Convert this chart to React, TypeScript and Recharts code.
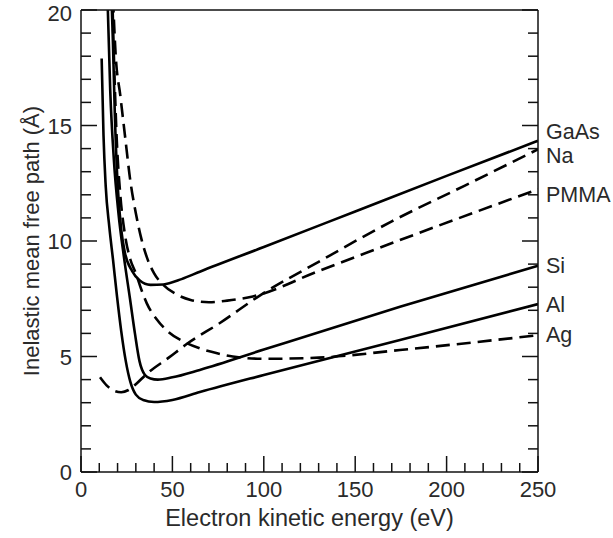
import { LineChart, Line, XAxis, YAxis, LabelList } from "recharts";

const FONT = "'Liberation Sans', Arial, Helvetica, sans-serif";

const energyTicks = [0, 10, 20, 30, 40, 50, 60, 70, 80, 90, 100, 110, 120, 130, 140, 150, 160, 170, 180, 190, 200, 210, 220, 230, 240, 250];
const imfpTicks = [0, 1, 2, 3, 4, 5, 6, 7, 8, 9, 10, 11, 12, 13, 14, 15, 16, 17, 18, 19, 20];

const gaasEnergy = [16.5, 17.5, 18.5, 20, 22, 24, 28, 32, 38, 45, 55, 65, 100, 150, 200, 250];
const gaasImfp = [21, 18.5, 15.5, 12.5, 10.5, 9.5, 8.7, 8.3, 8.1, 8.12, 8.35, 8.67, 9.74, 11.28, 12.82, 14.34];

const naEnergy = [10.4, 14, 18, 22, 26, 30, 36, 48, 58, 76, 98, 130, 170, 210, 250];
const naImfp = [4.1, 3.75, 3.52, 3.45, 3.55, 3.8, 4.25, 4.95, 5.55, 6.45, 7.65, 9.1, 10.85, 12.4, 13.97];

const pmmaEnergy = [17.5, 19, 21.5, 24, 27, 30, 33, 36, 40, 45, 52, 60, 70, 80, 94, 130, 174.5, 250];
const pmmaImfp = [20.5, 18, 16.3, 14.6, 12.6, 11.2, 10.1, 9.3, 8.6, 8.1, 7.7, 7.45, 7.35, 7.42, 7.6, 8.7, 10.04, 12.24];

const siEnergy = [14.5, 16, 18, 20.5, 23.5, 26.8, 29.5, 32, 35, 38, 42, 50, 65, 100, 174.5, 250];
const siImfp = [20.5, 16.5, 13.5, 11.2, 9.3, 7.5, 6.0, 4.8, 4.2, 4.05, 4.0, 4.1, 4.42, 5.3, 7.15, 8.93];

const alEnergy = [11.3, 12.3, 13.5, 15.5, 17.5, 19.7, 22, 24.5, 27, 30, 34, 40, 50, 65, 100, 174.5, 250];
const alImfp = [17.9, 14.6, 12.4, 10.6, 9.2, 7.6, 6.1, 4.8, 3.9, 3.35, 3.12, 3.03, 3.12, 3.46, 4.2, 5.71, 7.27];

const agEnergy = [17, 18, 19.5, 21.5, 24, 27, 30, 33, 36, 41.5, 48, 56, 65, 74, 83, 100, 130, 174.5, 250];
const agImfp = [21, 18, 14.5, 12, 10.3, 9.2, 8.6, 7.9, 7.3, 6.6, 6.05, 5.65, 5.35, 5.15, 5.0, 4.9, 4.95, 5.28, 5.92];

const seriesNames = ["GaAs", "Na", "PMMA", "Si", "Al", "Ag"];

const toPoints = (energy: number[], imfp: number[]) =>
  energy.map((e, i) => ({ x: e, y: imfp[i] }));

const seriesData: Record<string, { x: number; y: number }[]> = {
  GaAs: toPoints(gaasEnergy, gaasImfp),
  Na: toPoints(naEnergy, naImfp),
  PMMA: toPoints(pmmaEnergy, pmmaImfp),
  Si: toPoints(siEnergy, siImfp),
  Al: toPoints(alEnergy, alImfp),
  Ag: toPoints(agEnergy, agImfp),
};

// styling only
const dashed: Record<string, boolean> = { GaAs: false, Na: true, PMMA: true, Si: false, Al: false, Ag: true };
const labelNudge: Record<string, number> = { GaAs: -9, Na: 7, PMMA: 6, Si: 0, Al: 1, Ag: 0 };

const AXIS = "#111";
const TEXT = "#2a2a2a";

function BottomTick({ x, y, payload }: any) {
  const v = payload.value;
  const major = v % 50 === 0;
  return (
    <g>
      <line x1={x} y1={y} x2={x} y2={y - (major ? 16 : 9)} stroke={AXIS} strokeWidth={1.5} />
      {major && (
        <text x={x} y={y + 25} textAnchor="middle" fontSize={22} fill={TEXT} fontFamily={FONT}>
          {v}
        </text>
      )}
    </g>
  );
}

function TopTick({ x, y, payload }: any) {
  const major = payload.value % 50 === 0;
  return <line x1={x} y1={y} x2={x} y2={y + (major ? 16 : 9)} stroke={AXIS} strokeWidth={1.5} />;
}

function LeftTick({ x, y, payload }: any) {
  const v = payload.value;
  const major = v % 5 === 0;
  return (
    <g>
      <line x1={x} y1={y} x2={x + (major ? 16 : 10)} y2={y} stroke={AXIS} strokeWidth={1.5} />
      {major && (
        <text x={x - 9} y={Math.max(y + 8, 21)} textAnchor="end" fontSize={22} fill={TEXT} fontFamily={FONT}>
          {v}
        </text>
      )}
    </g>
  );
}

function RightTick({ x, y, payload }: any) {
  const major = payload.value % 5 === 0;
  return <line x1={x} y1={y} x2={x - (major ? 16 : 10)} y2={y} stroke={AXIS} strokeWidth={1.5} />;
}

const endLabel = (name: string, last: number) => (props: any) => {
  const { x, y, index } = props;
  if (index !== last) return null;
  return (
    <text x={x + 8} y={y + labelNudge[name] + 7} fontSize={21.5} fill={TEXT} fontFamily={FONT}>
      {name}
    </text>
  );
};

export default function App() {
  return (
    <div style={{ position: "absolute", left: 0, top: 0, width: 613, height: 538, background: "#fff" }}>
      <LineChart width={613} height={538} margin={{ top: 9, right: 74, bottom: 6, left: 21 }}>
        <XAxis
          xAxisId="bottom"
          dataKey="x"
          type="number"
          domain={[0, 250]}
          ticks={energyTicks}
          allowDataOverflow
          height={60}
          tickSize={0}
          tickMargin={0}
          tickLine={false}
          tick={<BottomTick />}
          interval={0}
          axisLine={{ stroke: AXIS, strokeWidth: 1.5 }}
          label={{
            value: "Electron kinetic energy (eV)",
            position: "insideBottom",
            offset: 6,
            style: { fontSize: 23.5, fill: TEXT, fontFamily: FONT },
          }}
        />
        <XAxis
          xAxisId="top"
          orientation="top"
          type="number"
          domain={[0, 250]}
          ticks={energyTicks}
          allowDataOverflow
          height={1}
          tickSize={0}
          tickMargin={0}
          tickLine={false}
          tick={<TopTick />}
          interval={0}
          axisLine={{ stroke: AXIS, strokeWidth: 1.5 }}
        />
        <YAxis
          yAxisId="left"
          type="number"
          domain={[0, 20]}
          ticks={imfpTicks}
          allowDataOverflow
          width={60}
          tickSize={0}
          tickMargin={0}
          tickLine={false}
          tick={<LeftTick />}
          interval={0}
          axisLine={{ stroke: AXIS, strokeWidth: 1.5 }}
          label={{
            value: "Inelastic mean free path (Å)",
            angle: -90,
            position: "insideLeft",
            offset: 10,
            style: { textAnchor: "middle", fontSize: 22, fill: TEXT, fontFamily: FONT },
          }}
        />
        <YAxis
          yAxisId="right"
          orientation="right"
          type="number"
          domain={[0, 20]}
          ticks={imfpTicks}
          allowDataOverflow
          width={1}
          tickSize={0}
          tickMargin={0}
          tickLine={false}
          tick={<RightTick />}
          interval={0}
          axisLine={{ stroke: AXIS, strokeWidth: 1.5 }}
        />
        {seriesNames.map((name) => (
          <Line
            key={name}
            xAxisId="bottom"
            yAxisId="left"
            data={seriesData[name]}
            dataKey="y"
            type="monotone"
            stroke="#000"
            strokeWidth={2.6}
            strokeDasharray={dashed[name] ? "14 7" : undefined}
            dot={false}
            activeDot={false}
            isAnimationActive={false}
          >
            <LabelList dataKey="y" content={endLabel(name, seriesData[name].length - 1)} />
          </Line>
        ))}
      </LineChart>
    </div>
  );
}
